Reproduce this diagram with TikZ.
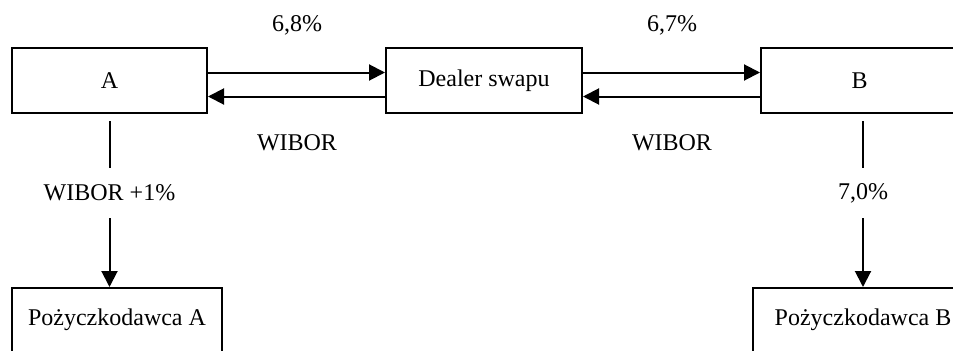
\documentclass[tikz,border=0pt]{standalone}
\usepackage{fontspec}
\setmainfont{Liberation Serif}
\usetikzlibrary{arrows.meta,calc}

\begin{document}
\begin{tikzpicture}[x=0.75pt,y=0.75pt,yscale=-1,xscale=1,
  font=\fontsize{18}{21}\selectfont,
  party/.style={draw,line width=1.5pt,inner sep=0pt,minimum height=48.75pt},
  flow/.style={line width=1.5pt,-{Triangle[length=12pt,width=12pt]}},
  rate/.style={inner sep=0pt,minimum height=37.5pt}]
%set diagram at 953 x 350
\clip (0,0) rectangle (953,350);

%Shape: Rectangle
\node [party,minimum width=146.25pt] (A) at (109.5,80.5) {A};
%Shape: Rectangle
\node [party,minimum width=147pt] (dealer) at (484,80.5) {Dealer swapu};
%Shape: Rectangle
\node [party,minimum width=168pt] (B) at (873,80.5) {\hspace*{-20pt}B};
%Shape: Rectangle
\node [party,minimum width=157.5pt,minimum height=48pt] (lenderA) at (117,320) {Pożyczkodawca A};
%Shape: Rectangle
\node [party,minimum width=165pt,minimum height=48pt] (lenderB) at (863,320) {Pożyczkodawca B};

%Straight Lines
\draw [flow] ($(A.east)+(0,-8)$) -- ($(dealer.west)+(0,-8)$);
\draw [flow] ($(dealer.west)+(0,16)$) -- ($(A.east)+(0,16)$);
\draw [flow] ($(dealer.east)+(0,-8)$) -- ($(B.west)+(0,-8)$);
\draw [flow] ($(B.west)+(0,16)$) -- ($(dealer.east)+(0,16)$);

% Text Node
\node (fixA) at (297,25) {6,8\%};
% Text Node
\node (fixB) at (672,25) {6,7\%};
% Text Node
\node (floatA) at (297,143) {WIBOR};
% Text Node
\node (floatB) at (672,143) {WIBOR};
% Text Node
\node [rate] (rateA) at ($(A.south)+(0,79)$) {WIBOR +1\%};
% Text Node
\node [rate] (rateB) at ($(B.south)+(-10,79)$) {7,0\%};

%Straight Lines
\draw [line width=1.5pt] ($(B.south)+(-10,7)$) -- (rateB.north);
\draw [line width=1.5pt] ($(A.south)+(0,7)$) -- (rateA.north);
\draw [flow] (rateA.south) -- (rateA.south |- lenderA.north);
\draw [flow] (rateB.south) -- (rateB.south |- lenderB.north);

\end{tikzpicture}
\end{document}
